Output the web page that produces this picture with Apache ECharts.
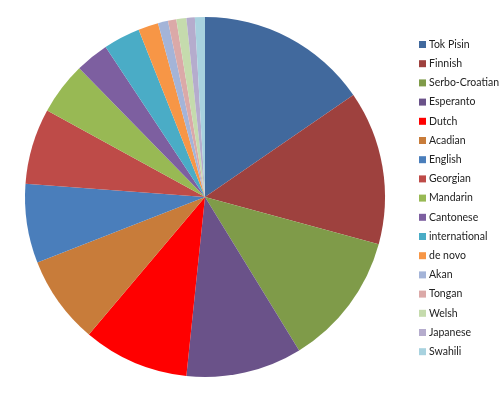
<!DOCTYPE html>
<html>
<head>
<meta charset="utf-8">
<script src="https://cdn.jsdelivr.net/npm/echarts@6/dist/echarts.min.js"></script>
<style>html,body{margin:0;padding:0;background:#fff;}#c{width:500px;height:394px;}</style>
</head>
<body>
<div id="c"></div>
<script>
const categories = ["Tok Pisin","Finnish","Serbo-Croatian","Esperanto","Dutch","Acadian","English","Georgian","Mandarin","Cantonese","international","de novo","Akan","Tongan","Welsh","Japanese","Swahili"];
const values = [15.4,13.8,12.0,10.4,9.5,7.9,7.1,6.8,4.7,3.0,3.3,1.8,0.9,0.75,0.9,0.75,0.9];
const colors = ["#41699D","#9E413E","#7F9B49","#6A5289","#FF0000","#C87C3A","#4A7EBB","#BE4B48","#98B954","#7D5FA0","#4AACC6","#F79646","#A4B4D8","#DBA9A8","#C5DBAD","#B5ACCD","#A8D2DF"];

const chart = echarts.init(document.getElementById('c'), null, {renderer:'canvas'});
chart.setOption({
  animation: false,
  color: colors,
  legend: {
    orient: 'vertical',
    left: 414,
    top: 34,
    itemWidth: 7,
    itemHeight: 7,
    itemGap: 8.2,
    icon: 'rect',
    textStyle: {fontFamily: 'Lato, Open Sans, sans-serif', fontSize: 10.5, color: '#222', padding:[0,0,0,-2]},
    data: categories
  },
  series: [{
    type: 'pie',
    center: [205, 197],
    radius: [0, 180],
    startAngle: 90,
    clockwise: true,
    label: {show: false},
    labelLine: {show: false},
    emphasis: {disabled: true},
    itemStyle: {borderWidth: 0},
    data: categories.map((n, i) => ({name: n, value: values[i]}))
  }]
});
</script>
</body>
</html>
